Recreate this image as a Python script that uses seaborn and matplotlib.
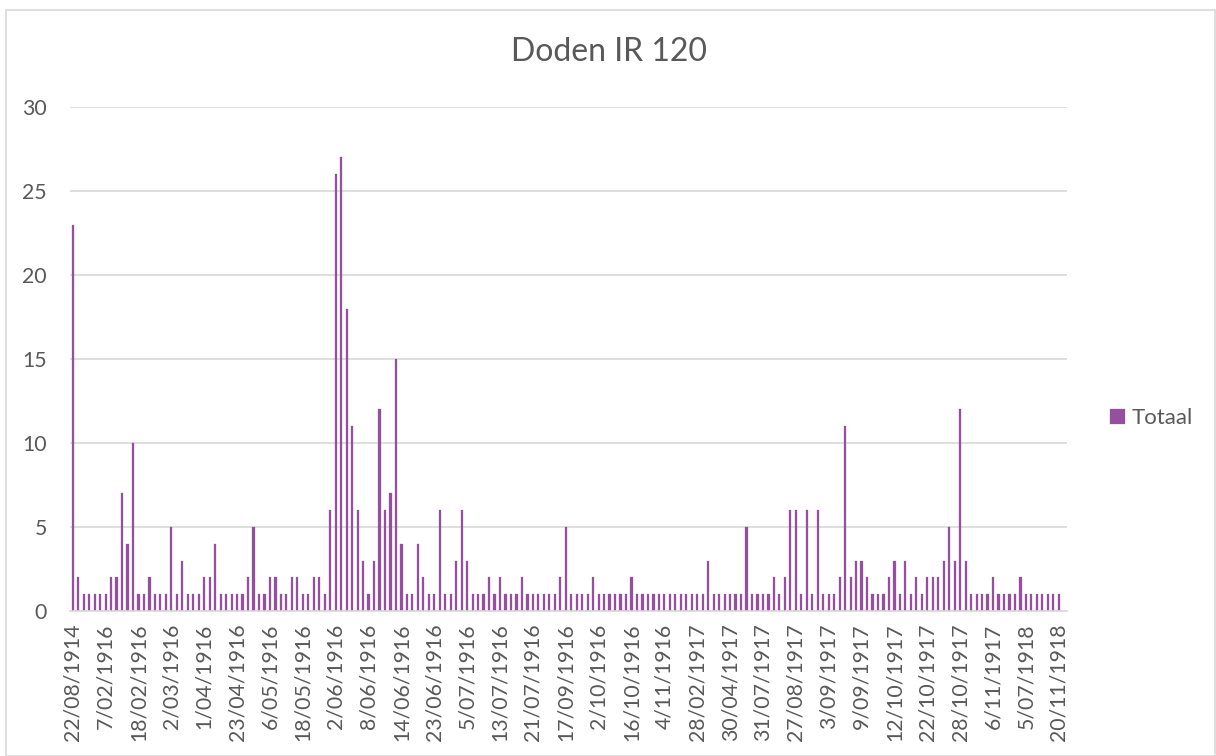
import numpy as np
import pandas as pd
import matplotlib
matplotlib.use("Agg")
import matplotlib.pyplot as plt
import seaborn as sns
from matplotlib.patches import Rectangle

# Doden IR 120 - aantal doden per datum (draaitabel)
totaal = [
    23, 2, 1, 1, 1, 1, 1, 2, 2, 7, 4, 10, 1, 1, 2, 1, 1, 1, 5, 1,
    3, 1, 1, 1, 2, 2, 4, 1, 1, 1, 1, 1, 2, 5, 1, 1, 2, 2, 1, 1,
    2, 2, 1, 1, 2, 2,
    1, 6, 26, 27, 18, 11, 6, 3, 1, 3, 12, 6, 7, 15, 4, 1, 1, 4, 2, 1,
    1, 6, 1, 1, 3, 6, 3, 1, 1, 1, 2, 1, 2, 1, 1, 1, 2, 1, 1, 1,
    1, 1, 1, 2, 5,
    1, 1, 1, 1, 2, 1, 1, 1, 1, 1, 1, 2, 1, 1, 1, 1, 1, 1, 1, 1,
    1, 1, 1, 1, 1, 3, 1, 1, 1, 1, 1, 1, 5, 1, 1, 1, 1, 2, 1, 2,
    6, 6, 1, 6, 1, 6,
    1, 1, 1, 2, 11, 2, 3, 3, 2, 1, 1, 1, 2, 3, 1, 3, 1, 2, 1, 2,
    2, 2, 3, 5, 3, 12, 3, 1, 1, 1, 1, 2, 1, 1, 1, 1, 2, 1, 1, 1,
    1, 1, 1, 1,
]

# zichtbare aslabels (elke 6e datum)
tick_labels = [
    "22/08/1914", "7/02/1916", "18/02/1916", "2/03/1916", "1/04/1916",
    "23/04/1916", "6/05/1916", "18/05/1916", "2/06/1916", "8/06/1916",
    "14/06/1916", "23/06/1916", "5/07/1916", "13/07/1916", "21/07/1916",
    "17/09/1916", "2/10/1916", "16/10/1916", "4/11/1916", "28/02/1917",
    "30/04/1917", "31/07/1917", "27/08/1917", "3/09/1917", "9/09/1917",
    "12/10/1917", "22/10/1917", "28/10/1917", "6/11/1917", "5/07/1918",
    "20/11/1918",
]
label_step = 6

bar_color = "#954F9F"
text_color = "#595959"
grid_color = "#D9D9D9"

df = pd.DataFrame({"nr": np.arange(len(totaal)), "Totaal": totaal})

sns.set_style("white")
plt.rcParams["font.family"] = ["Lato", "DejaVu Sans"]

fig = plt.figure(figsize=(12.16, 7.56), dpi=100)
ax = fig.add_axes([70 / 1216, 1 - 611 / 756, (1067 - 70) / 1216, (611 - 107) / 756])

sns.barplot(data=df, x="nr", y="Totaal", color=bar_color, saturation=1,
            width=0.4, label="Totaal", edgecolor=bar_color, linewidth=0.2, ax=ax)

# lege categorie aan het eind (blanco rij van de draaitabel)
ax.set_xlim(-0.5, len(totaal) + 0.5)
ax.set_ylim(0, 30)
ax.set_yticks(range(0, 31, 5))
ax.set_xticks(range(0, len(tick_labels) * label_step, label_step))
ax.set_xticklabels(tick_labels, rotation=90)
ax.set_xlabel("")
ax.set_ylabel("")

ax.yaxis.grid(True, color=grid_color, linewidth=1.2)
ax.set_axisbelow(True)
for side in ["top", "right", "left"]:
    ax.spines[side].set_visible(False)
ax.spines["bottom"].set_color(grid_color)
ax.spines["bottom"].set_linewidth(1.2)
ax.tick_params(axis="both", length=0, colors=text_color, labelsize=15.3)
ax.tick_params(axis="y", pad=16.5)
ax.tick_params(axis="x", pad=9)

fig.text(609 / 1216, 1 - 52 / 756, "Doden IR 120", ha="center", va="center",
         fontsize=23, color=text_color)

leg = ax.legend(loc="center left", bbox_to_anchor=(1099 / 1216, 1 - 418 / 756),
                bbox_transform=fig.transFigure, frameon=False, fontsize=16,
                handlelength=0.65, handleheight=0.65, handletextpad=0.3,
                borderpad=0)
for t in leg.get_texts():
    t.set_color(text_color)

# kader rond de grafiek
fig.patches.append(Rectangle((6 / 1216, 0.5 / 756), 1208.5 / 1216, 746 / 756,
                             transform=fig.transFigure, fill=False,
                             edgecolor=grid_color, linewidth=1.2))

fig.savefig("out.png", dpi=100)
plt.close(fig)
